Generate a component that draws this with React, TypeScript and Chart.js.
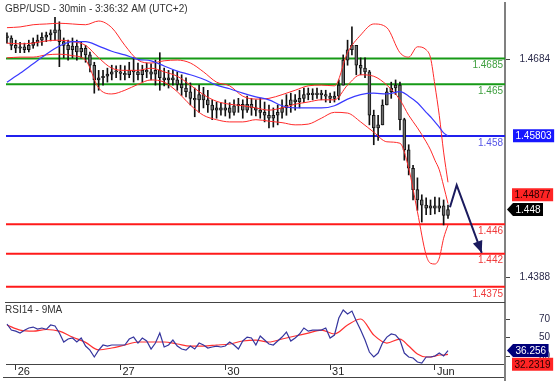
import React, { useEffect, useRef } from "react";
import { Chart, registerables } from "chart.js";

Chart.register(...registerables);

// ---------- text ----------
const TITLE = "GBP/USD - 30min - 3:36:32 AM (UTC+2)";
const RSI_TITLE = "RSI14 - 9MA";

// ---------- axes ----------
const dayTicks = [0, 1, 2, 3, 4];
const dayLabels = ["26", "27", "30", "31", "Jun"];
const priceTicks = [1.4388, 1.4684];
const rsiTicks = [30, 50, 70];

// time unit: trading days from 26 May 00:00; hourly candles start 25 May 22:00
const FIRST_HOUR = -2;

// ---------- hourly candles ----------
const candleHigh = [
  1.4720, 1.4716, 1.4710, 1.4707, 1.4706, 1.4710, 1.4713, 1.4717, 1.4720, 1.4721,
  1.4724, 1.4741, 1.4735, 1.4713, 1.4710, 1.4713, 1.4710, 1.4708, 1.4703, 1.4694,
  1.4680, 1.4669, 1.4669, 1.4672, 1.4676, 1.4675, 1.4676, 1.4675, 1.4680, 1.4686,
  1.4679, 1.4676, 1.4679, 1.4678, 1.4683, 1.4693, 1.4672, 1.4669, 1.4669, 1.4667,
  1.4663, 1.4659, 1.4652, 1.4645, 1.4649, 1.4646, 1.4642, 1.4629, 1.4626, 1.4625,
  1.4629, 1.4625, 1.4629, 1.4631, 1.4629, 1.4634, 1.4631, 1.4629, 1.4631, 1.4626,
  1.4622, 1.4618, 1.4622, 1.4629, 1.4636, 1.4638, 1.4636, 1.4642, 1.4645, 1.4645,
  1.4644, 1.4645, 1.4642, 1.4642, 1.4638, 1.4640, 1.4656, 1.4690, 1.4710, 1.4728,
  1.4697, 1.4686, 1.4686, 1.4669, 1.4615, 1.4608, 1.4629, 1.4645, 1.4653, 1.4656,
  1.4653, 1.4604, 1.4568, 1.4540, 1.4523, 1.4500, 1.4496, 1.4493, 1.4497, 1.4496,
  1.4493, 1.4486,
];
const candleLow = [
  1.4706, 1.4697, 1.4693, 1.4693, 1.4693, 1.4694, 1.4699, 1.4702, 1.4703, 1.4708,
  1.4709, 1.4710, 1.4674, 1.4686, 1.4683, 1.4686, 1.4683, 1.4686, 1.4680, 1.4667,
  1.4638, 1.4642, 1.4649, 1.4653, 1.4656, 1.4659, 1.4656, 1.4656, 1.4659, 1.4653,
  1.4656, 1.4653, 1.4659, 1.4656, 1.4649, 1.4642, 1.4648, 1.4645, 1.4649, 1.4642,
  1.4635, 1.4633, 1.4622, 1.4606, 1.4612, 1.4618, 1.4612, 1.4602, 1.4604, 1.4608,
  1.4607, 1.4604, 1.4608, 1.4612, 1.4604, 1.4612, 1.4608, 1.4607, 1.4604, 1.4599,
  1.4591, 1.4592, 1.4595, 1.4604, 1.4608, 1.4612, 1.4615, 1.4618, 1.4625, 1.4629,
  1.4629, 1.4631, 1.4629, 1.4626, 1.4625, 1.4626, 1.4629, 1.4649, 1.4676, 1.4690,
  1.4663, 1.4663, 1.4659, 1.4595, 1.4568, 1.4574, 1.4595, 1.4622, 1.4631, 1.4636,
  1.4588, 1.4547, 1.4527, 1.4493, 1.4479, 1.4463, 1.4473, 1.4473, 1.4474, 1.4477,
  1.4459, 1.4468,
];
const candleClose = [
  1.4713, 1.4703, 1.4699, 1.4701, 1.4697, 1.4703, 1.4707, 1.4710, 1.4714, 1.4717,
  1.4720, 1.4724, 1.4708, 1.4703, 1.4697, 1.4702, 1.4694, 1.4699, 1.4690, 1.4676,
  1.4656, 1.4659, 1.4661, 1.4664, 1.4667, 1.4667, 1.4665, 1.4663, 1.4669, 1.4667,
  1.4663, 1.4669, 1.4667, 1.4664, 1.4669, 1.4659, 1.4656, 1.4659, 1.4656, 1.4650,
  1.4645, 1.4640, 1.4631, 1.4629, 1.4636, 1.4629, 1.4622, 1.4615, 1.4618, 1.4615,
  1.4618, 1.4612, 1.4621, 1.4623, 1.4615, 1.4623, 1.4618, 1.4615, 1.4612, 1.4608,
  1.4604, 1.4608, 1.4612, 1.4618, 1.4622, 1.4629, 1.4626, 1.4631, 1.4636, 1.4638,
  1.4636, 1.4638, 1.4636, 1.4634, 1.4631, 1.4634, 1.4649, 1.4683, 1.4697, 1.4703,
  1.4676, 1.4672, 1.4667, 1.4608, 1.4591, 1.4595, 1.4622, 1.4640, 1.4645, 1.4649,
  1.4602, 1.4561, 1.4536, 1.4507, 1.4493, 1.4486, 1.4482, 1.4485, 1.4482, 1.4485,
  1.4472, 1.4480,
];
const firstOpen = 1.4716;

// ---------- indicator samples (hour index from first candle) ----------
const sampleHours = [
  0, 3, 6, 9, 12, 15, 18, 21, 24, 27, 30, 33, 36, 39, 42, 45, 48, 51, 54, 57,
  60, 63, 66, 69, 72, 75, 78, 81, 84, 87, 90, 92, 94, 96, 97, 98, 99, 100, 101,
];
const bbUpper = [
  1.4727, 1.4728, 1.4731, 1.4732, 1.4733, 1.4732, 1.4731, 1.4736, 1.4727, 1.4703,
  1.4683, 1.4679, 1.4682, 1.4683, 1.4679, 1.4667, 1.4653, 1.4648, 1.4634, 1.4630,
  1.4631, 1.4636, 1.4642, 1.4648, 1.4649, 1.4648, 1.4693, 1.4717, 1.4732, 1.4727,
  1.4693, 1.4687, 1.4701, 1.4697, 1.4686, 1.4649, 1.4608, 1.4558, 1.4517,
];
const bbMiddle = [
  1.4706, 1.4705, 1.4706, 1.4709, 1.4710, 1.4708, 1.4703, 1.4686, 1.4672, 1.4669,
  1.4669, 1.4672, 1.4667, 1.4661, 1.4649, 1.4636, 1.4627, 1.4623, 1.4621, 1.4618,
  1.4615, 1.4618, 1.4623, 1.4626, 1.4629, 1.4629, 1.4649, 1.4663, 1.4661, 1.4649,
  1.4629, 1.4608, 1.4591, 1.4572, 1.4561, 1.4547, 1.4534, 1.4512, 1.4488,
];
const bbLower = [
  1.4686, 1.4687, 1.4687, 1.4690, 1.4691, 1.4689, 1.4683, 1.4645, 1.4637, 1.4642,
  1.4650, 1.4656, 1.4653, 1.4640, 1.4622, 1.4608, 1.4602, 1.4599, 1.4599, 1.4602,
  1.4600, 1.4598, 1.4595, 1.4596, 1.4604, 1.4612, 1.4611, 1.4599, 1.4585, 1.4572,
  1.4570, 1.4536, 1.4477, 1.4418, 1.4407, 1.4406, 1.4414, 1.4441, 1.4459,
];
const movingAvg = [
  1.4653, 1.4665, 1.4678, 1.4691, 1.4702, 1.4708, 1.4708, 1.4702, 1.4695, 1.4690,
  1.4684, 1.4682, 1.4675, 1.4668, 1.4663, 1.4657, 1.4649, 1.4644, 1.4638, 1.4633,
  1.4629, 1.4621, 1.4618, 1.4618, 1.4618, 1.4621, 1.4630, 1.4636, 1.4638, 1.4637,
  1.4640, 1.4634, 1.4625, 1.4612, 1.4606, 1.4599, 1.4592, 1.4584, 1.4580,
];

// ---------- RSI ----------
const rsi14 = [
  64.7, 58.2, 57, 55, 58, 60.4, 61.4, 59.3, 60.4, 59,
  63.6, 62.5, 55, 45.4, 48.6, 49.7, 45.4, 49.7, 41.1, 36.8,
  29.4, 36.8, 42.2, 41.1, 42.2, 42.2, 42.2, 42.2, 48.6, 50.7,
  44.3, 49.7, 46.5, 37.9, 44.3, 55, 40.1, 42.2, 47.5, 41.1,
  37.9, 36.8, 41.1, 37.9, 44.3, 42.2, 39, 40.1, 41.1, 40.1,
  41.1, 45.4, 42.2, 37.9, 46.5, 50.7, 49.7, 42.2, 51.8, 47.5,
  43.3, 42.2, 46.5, 50.7, 56.1, 46.5, 49.7, 54, 60.4, 57,
  58.2, 58.2, 58.2, 60.4, 49.7, 52.9, 71, 79.6, 75.3, 78.5,
  67.9, 58.2, 47.5, 34.7, 29.4, 33.6, 44.3, 50.7, 54, 52.9,
  47.5, 33.6, 29.4, 28.3, 24, 22.9, 29.4, 29.4, 30.4, 33.6,
  30.4, 36.3,
];
const rsiMa9 = [
  63.6, 58.2, 57, 58.8, 57, 50.7, 45, 37, 39, 42.2,
  45.4, 45.4, 45.4, 43.3, 41.1, 41.1, 42.2, 43.3, 46.5, 47.5,
  45.4, 48.6, 51.8, 55, 58.2, 54, 63.6, 70, 52.9, 44.3,
  48.6, 41.1, 32.6, 29.4, 29.4, 30.4, 31.5, 31.5, 32.2,
];

// ---------- levels & projection ----------
const levelValues = [1.4685, 1.465, 1.458, 1.446, 1.442, 1.4375];
const levelLabels = ["1.4685", "1.465", "1.458", "1.446", "1.442", "1.4375"];
const projectionTimes = [4.144, 4.208, 4.447];
const projectionPrices = [1.4483, 1.4513, 1.4421];

// ---------- last values ----------
const MA_LAST = 1.45803;
const MID_LAST = 1.44877;
const PRICE_LAST = 1.448;
const RSI_LAST = 36.256;
const RSI_MA_LAST = 32.2319;

// ---------- style ----------
const FONT_FAMILY = 'Arial, "Liberation Sans", Helvetica, sans-serif';
const FONT_SIZE = 10;
const GREEN = "#169a16";
const BLUE = "#2020ee";
const RED = "#ff1a1a";
const levelColors = [GREEN, GREEN, BLUE, RED, RED, RED];
const levelTextColors = ["#3f9f3f", "#3f9f3f", "#5555e6", "#ee3a3a", "#ee3a3a", "#ee3a3a"];
const X_MIN = -0.0926;
const X_MAX = 4.669;

const hourToDay = (h: number) => (h + FIRST_HOUR) / 24;

function noPad(s: any) {
  s.paddingTop = 0;
  s.paddingBottom = 0;
  s.paddingLeft = 0;
  s.paddingRight = 0;
}

function drawBox(ctx: CanvasRenderingContext2D, text: string, left: number, yc: number, bg: string, fg: string, arrow: boolean) {
  const w = ctx.measureText(text).width;
  const h = 13;
  const tip = arrow ? 6 : 0;
  ctx.fillStyle = bg;
  ctx.beginPath();
  if (arrow) {
    ctx.moveTo(left, yc);
    ctx.lineTo(left + tip, yc - h / 2);
    ctx.lineTo(left + tip + w + 5, yc - h / 2);
    ctx.lineTo(left + tip + w + 5, yc + h / 2);
    ctx.lineTo(left + tip, yc + h / 2);
  } else {
    ctx.rect(left, yc - h / 2, w + 5, h);
  }
  ctx.closePath();
  ctx.fill();
  ctx.fillStyle = fg;
  ctx.textAlign = "left";
  ctx.textBaseline = "middle";
  ctx.fillText(text, left + tip + 2.5, yc + 0.5);
}

const mainOverlay = {
  id: "mainOverlay",
  afterDraw(chart: any) {
    const { ctx, chartArea, scales } = chart;
    const y = scales.y;
    ctx.save();
    ctx.font = `${FONT_SIZE}px ${FONT_FAMILY}`;
    ctx.fillStyle = "#333333";
    ctx.textAlign = "left";
    ctx.textBaseline = "middle";
    ctx.fillText(TITLE, 5, 9);
    ctx.textAlign = "right";
    levelValues.forEach((v, i) => {
      ctx.fillStyle = levelTextColors[i];
      ctx.fillText(levelLabels[i], chartArea.right - 2, y.getPixelForValue(v) + 7);
    });
    // projection arrowhead
    const idx = chart.data.datasets.findIndex((d: any) => d.label === "projection");
    const pts = chart.getDatasetMeta(idx).data;
    const a = pts[pts.length - 2];
    const b = pts[pts.length - 1];
    const ang = Math.atan2(b.y - a.y, b.x - a.x);
    const L = 12, W = 5;
    ctx.fillStyle = "#1b1b5e";
    ctx.beginPath();
    ctx.moveTo(b.x, b.y);
    ctx.lineTo(b.x - L * Math.cos(ang) + W * Math.sin(ang), b.y - L * Math.sin(ang) - W * Math.cos(ang));
    ctx.lineTo(b.x - L * Math.cos(ang) - W * Math.sin(ang), b.y - L * Math.sin(ang) + W * Math.cos(ang));
    ctx.closePath();
    ctx.fill();
    // value boxes
    drawBox(ctx, MA_LAST.toFixed(5), 513, y.getPixelForValue(MA_LAST), "#1717ff", "#ffffff", false);
    drawBox(ctx, MID_LAST.toFixed(5), 512, y.getPixelForValue(MID_LAST) - 9, "#ff2424", "#2a0000", false);
    drawBox(ctx, PRICE_LAST.toFixed(3), 507, y.getPixelForValue(PRICE_LAST), "#000000", "#ffffff", true);
    ctx.restore();
  },
};

const rsiOverlay = {
  id: "rsiOverlay",
  afterDraw(chart: any) {
    const { ctx, chartArea, scales } = chart;
    const y = scales.y;
    const H = chart.height;
    ctx.save();
    ctx.strokeStyle = "#444444";
    ctx.lineWidth = 1;
    ctx.beginPath();
    ctx.moveTo(5, chartArea.top + 0.5);
    ctx.lineTo(chartArea.right, chartArea.top + 0.5);
    ctx.moveTo(3, H - 3.5);
    ctx.lineTo(chartArea.right, H - 3.5);
    ctx.stroke();
    ctx.strokeStyle = "#808080";
    ctx.lineWidth = 2;
    ctx.beginPath();
    ctx.moveTo(chartArea.right, chartArea.bottom);
    ctx.lineTo(chartArea.right, H);
    ctx.stroke();
    ctx.font = `${FONT_SIZE}px ${FONT_FAMILY}`;
    ctx.fillStyle = "#333333";
    ctx.textAlign = "left";
    ctx.textBaseline = "middle";
    ctx.fillText(RSI_TITLE, 5, chartArea.top + 8);
    drawBox(ctx, RSI_LAST.toFixed(3), 507, y.getPixelForValue(RSI_LAST), "#00007a", "#ffffff", true);
    drawBox(ctx, RSI_MA_LAST.toFixed(4), 512, y.getPixelForValue(RSI_MA_LAST) + 10, "#ff2424", "#2a0000", false);
    ctx.restore();
  },
};

const pts = (hours: number[], vals: number[]) => vals.map((v, i) => ({ x: hourToDay(hours[i]), y: v }));

function mainConfig(): any {
  const candleHours = candleClose.map((_, i) => i);
  const wicks = candleHigh.map((h, i) => ({ x: hourToDay(candleHours[i]), y: [candleLow[i], h] }));
  const bodies = candleClose.map((c, i) => ({
    x: hourToDay(candleHours[i]),
    y: [i === 0 ? firstOpen : candleClose[i - 1], c],
  }));
  const lineStyle = { pointRadius: 0, borderWidth: 1, fill: false, cubicInterpolationMode: "monotone" };
  return {
    type: "line",
    data: {
      datasets: [
        {
          label: "projection",
          data: projectionTimes.map((t, i) => ({ x: t, y: projectionPrices[i] })),
          borderColor: "#1b1b5e",
          borderWidth: 2,
          pointRadius: 0,
          tension: 0,
          order: 0,
        },
        { label: "ma", data: pts(sampleHours, movingAvg), borderColor: "#3a3aff", ...lineStyle, borderWidth: 1.2, order: 1 },
        { label: "upper", data: pts(sampleHours, bbUpper), borderColor: "#ff2a2a", ...lineStyle, order: 2 },
        { label: "middle", data: pts(sampleHours, bbMiddle), borderColor: "#ff2a2a", ...lineStyle, order: 2 },
        { label: "lower", data: pts(sampleHours, bbLower), borderColor: "#ff2a2a", ...lineStyle, order: 2 },
        {
          type: "bar",
          label: "body",
          data: bodies,
          backgroundColor: "#6e6e6e",
          borderColor: "#111111",
          borderWidth: 1,
          borderSkipped: false,
          barThickness: 3,
          minBarLength: 1,
          grouped: false,
          order: 4,
        },
        {
          type: "bar",
          label: "wick",
          data: wicks,
          backgroundColor: "#111111",
          barThickness: 1,
          grouped: false,
          order: 5,
        },
        ...levelValues.map((v, i) => ({
          label: "level" + i,
          data: [{ x: X_MIN, y: v }, { x: X_MAX, y: v }],
          borderColor: levelColors[i],
          borderWidth: 2,
          pointRadius: 0,
          order: 10,
        })),
      ],
    },
    options: {
      animation: false,
      responsive: false,
      devicePixelRatio: 1,
      layout: { padding: { left: 6, right: 7, top: 3, bottom: 1 } },
      plugins: { legend: { display: false }, tooltip: { enabled: false } },
      scales: {
        x: { type: "linear", min: X_MIN, max: X_MAX, display: false, offset: false },
        y: {
          type: "linear",
          position: "right",
          min: 1.43544,
          max: 1.47605,
          beginAtZero: false,
          afterBuildTicks: (s: any) => { s.ticks = priceTicks.map((v) => ({ value: v })); },
          afterFit: (s: any) => { s.width = 45; noPad(s); },
          grid: { drawOnChartArea: false, drawTicks: true, tickLength: 5, tickColor: "#444444" },
          border: { display: true, color: "#808080", width: 2 },
          ticks: {
            crossAlign: "far",
            padding: 9,
            color: "#2b2b4b",
            font: { family: FONT_FAMILY, size: FONT_SIZE },
            callback: (v: any) => Number(v).toFixed(4),
          },
        },
      },
    },
    plugins: [mainOverlay],
  };
}

function rsiConfig(): any {
  const rsiHours = rsi14.map((_, i) => i);
  return {
    type: "line",
    data: {
      datasets: [
        {
          label: "rsi",
          data: pts(rsiHours, rsi14),
          borderColor: "#35359e",
          borderWidth: 1.2,
          pointRadius: 0,
          tension: 0,
          order: 0,
        },
        {
          label: "rsiMa",
          data: pts(sampleHours, rsiMa9),
          borderColor: "#ff3030",
          borderWidth: 1.2,
          pointRadius: 0,
          cubicInterpolationMode: "monotone",
          order: 1,
        },
      ],
    },
    options: {
      animation: false,
      responsive: false,
      devicePixelRatio: 1,
      layout: { padding: { left: 6, right: 7, top: 6, bottom: 0 } },
      plugins: { legend: { display: false }, tooltip: { enabled: false } },
      scales: {
        x: {
          type: "linear",
          min: X_MIN,
          max: X_MAX,
          offset: false,
          afterBuildTicks: (s: any) => { s.ticks = dayTicks.map((v) => ({ value: v })); },
          afterFit: (s: any) => { s.height = 17; noPad(s); },
          grid: { drawOnChartArea: false, drawTicks: true, tickLength: 6, tickColor: "#333333" },
          border: { display: true, color: "#444444", width: 1 },
          ticks: {
            align: "start",
            labelOffset: 2,
            padding: -5,
            maxRotation: 0,
            autoSkip: false,
            color: "#222222",
            font: { family: FONT_FAMILY, size: FONT_SIZE + 1 },
            callback: (v: any) => {
              const k = dayTicks.indexOf(Number(v));
              return k >= 0 ? dayLabels[k] : "";
            },
          },
        },
        y: {
          type: "linear",
          position: "right",
          min: 21.9,
          max: 88.2,
          afterBuildTicks: (s: any) => { s.ticks = rsiTicks.map((v) => ({ value: v })); },
          afterFit: (s: any) => { s.width = 45; noPad(s); },
          grid: { drawOnChartArea: false, drawTicks: true, tickLength: 5, tickColor: "#444444" },
          border: { display: true, color: "#808080", width: 2 },
          ticks: {
            crossAlign: "far",
            padding: 29,
            color: "#2b2b4b",
            font: { family: FONT_FAMILY, size: FONT_SIZE },
            callback: (v: any) => String(v),
          },
        },
      },
    },
    plugins: [rsiOverlay],
  };
}

export default function App() {
  const mainRef = useRef<HTMLCanvasElement>(null);
  const rsiRef = useRef<HTMLCanvasElement>(null);
  useEffect(() => {
    document.body.style.margin = "0";
    const main = new Chart(mainRef.current as HTMLCanvasElement, mainConfig());
    const rsi = new Chart(rsiRef.current as HTMLCanvasElement, rsiConfig());
    return () => {
      main.destroy();
      rsi.destroy();
    };
  }, []);
  return (
    <div style={{ position: "relative", width: 557, height: 381, background: "#ffffff", overflow: "hidden" }}>
      <canvas ref={mainRef} width={557} height={303} style={{ position: "absolute", left: 0, top: 0 }} />
      <canvas ref={rsiRef} width={557} height={85} style={{ position: "absolute", left: 0, top: 296 }} />
    </div>
  );
}
